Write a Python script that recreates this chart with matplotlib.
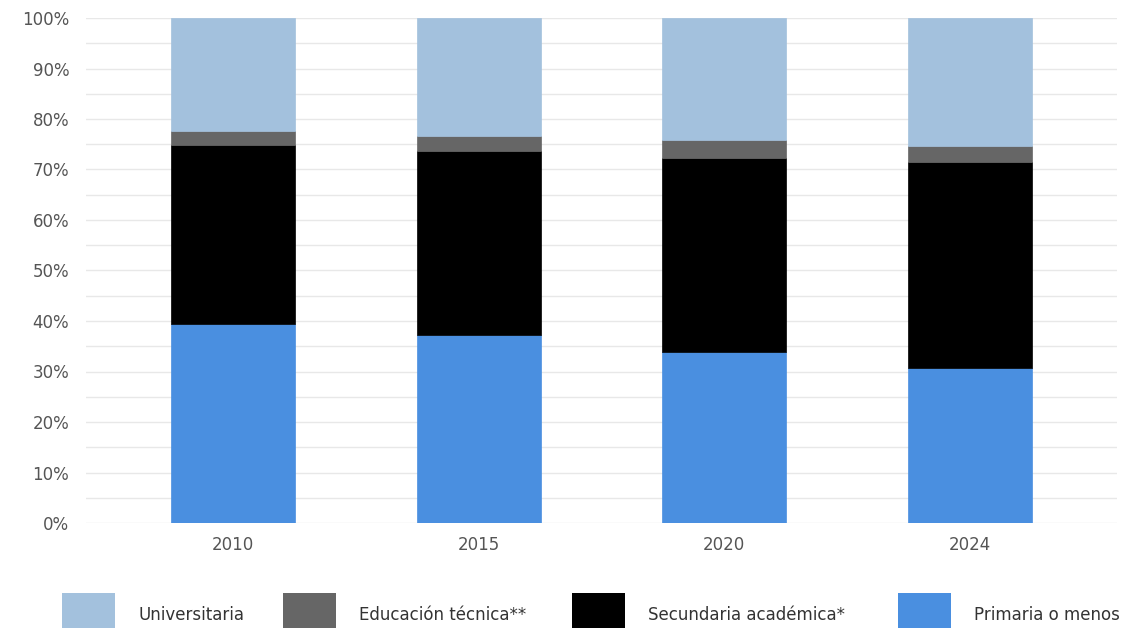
import matplotlib
matplotlib.use("Agg")
import matplotlib.pyplot as plt
from matplotlib.patches import Patch
from matplotlib.ticker import MultipleLocator, PercentFormatter
import numpy as np

# ---------------------------------------------------------------------------
# Data (shares of total, %)
# ---------------------------------------------------------------------------
years = ["2010", "2015", "2020", "2024"]
primaria = [39.4, 37.2, 33.9, 30.6]
secundaria = [35.5, 36.4, 38.3, 40.8]
tecnica = [2.8, 3.0, 3.6, 3.3]
universitaria = [22.3, 23.4, 24.2, 25.3]

series_names = ["Primaria o menos", "Secundaria académica*",
                "Educación técnica**", "Universitaria"]
series_vals = [primaria, secundaria, tecnica, universitaria]
colors = ["#4a8fe0", "#000000", "#666666", "#a3c1dd"]

# legend entry left edges (pixels), the legend runs off the figure edge
legend_x = [62, 283, 572, 898]

# ---------------------------------------------------------------------------
# Plot
# ---------------------------------------------------------------------------
plt.rcParams["font.family"] = ["DejaVu Sans"]

W, H = 1141, 628
fig = plt.figure(figsize=(W / 100, H / 100), dpi=100)
ax = fig.add_axes([86 / W, 1 - 523 / H, 1031 / W, 505 / H])

x = np.arange(len(years))
bottom = np.zeros(len(years))
for name, vals, c in zip(series_names, series_vals, colors):
    v = np.array(vals) / 100
    ax.bar(x, v, width=0.505, bottom=bottom, color=c, label=name,
           edgecolor=c, linewidth=0.5, zorder=3)
    bottom += v

ax.set_xlim(-0.6, 3.6)
ax.set_ylim(0, 1)
ax.yaxis.set_major_locator(MultipleLocator(0.1))
ax.yaxis.set_minor_locator(MultipleLocator(0.05))
ax.yaxis.set_major_formatter(PercentFormatter(1.0, decimals=0))
ax.grid(axis="y", which="both", color="#e8e8e8", linewidth=1, zorder=0)
ax.set_xticks(x)
ax.set_xticklabels(years)
ax.tick_params(axis="both", which="both", length=0, labelsize=12,
               colors="#555555")
ax.tick_params(axis="y", pad=12)
ax.tick_params(axis="x", pad=9)
for s in ax.spines.values():
    s.set_visible(False)

# legend, reversed order; one entry per box so spacing follows the original
for lx, name, c in zip(legend_x, series_names[::-1], colors[::-1]):
    fig.legend([Patch(facecolor=c)], [name], loc="upper left",
               bbox_to_anchor=(lx / W, 1 - 593 / H), frameon=False,
               borderpad=0, borderaxespad=0, handlelength=3.2,
               handleheight=3.67, handletextpad=1.38, fontsize=12,
               labelcolor="#333333")

fig.savefig("out.png", dpi=100)
